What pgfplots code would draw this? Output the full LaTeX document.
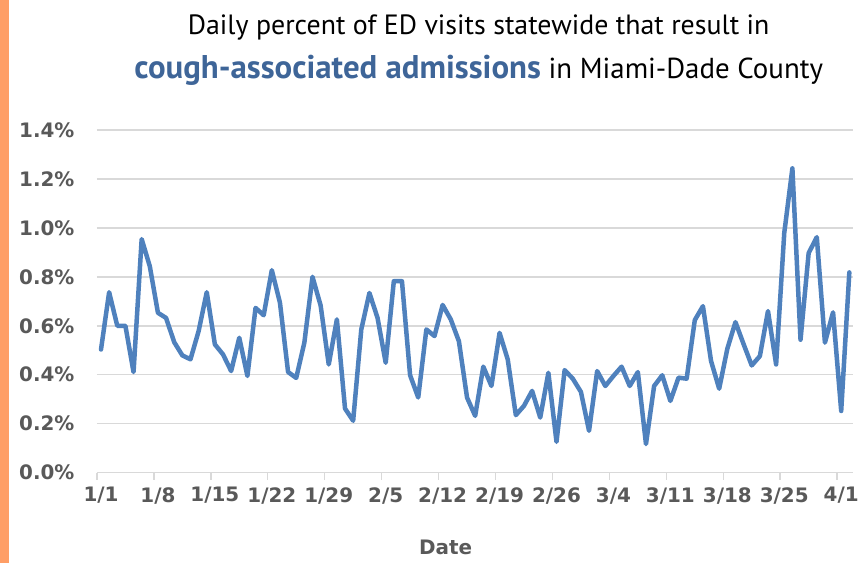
\documentclass[border=0pt]{standalone}
\usepackage{fontspec}
\setmainfont{PT Sans}
\newfontfamily\tickfont{DejaVu Sans}
\usepackage{pgfplots}
\usepackage{pgfplotstable}
\pgfplotsset{compat=1.18}
\definecolor{lineblue}{RGB}{79,129,189}
\definecolor{titleblue}{RGB}{62,101,152}
\definecolor{gridgrey}{RGB}{217,217,217}
\definecolor{labgrey}{RGB}{89,89,89}
\definecolor{strip}{RGB}{255,158,102}
\pgfplotstableread{
x y
0.5 0.503
1.5 0.737
2.5 0.600
3.5 0.600
4.5 0.411
5.5 0.954
6.5 0.843
7.5 0.653
8.5 0.632
9.5 0.533
10.5 0.479
11.5 0.463
12.5 0.578
13.5 0.737
14.5 0.524
15.5 0.483
16.5 0.415
17.5 0.551
18.5 0.395
19.5 0.673
20.5 0.643
21.5 0.827
22.5 0.694
23.5 0.411
24.5 0.387
25.5 0.531
26.5 0.800
27.5 0.683
28.5 0.442
29.5 0.626
30.5 0.262
31.5 0.212
32.5 0.585
33.5 0.734
34.5 0.632
35.5 0.449
36.5 0.782
37.5 0.782
38.5 0.398
39.5 0.307
40.5 0.585
41.5 0.558
42.5 0.685
43.5 0.626
44.5 0.537
45.5 0.307
46.5 0.232
47.5 0.433
48.5 0.354
49.5 0.571
50.5 0.463
51.5 0.235
52.5 0.273
53.5 0.334
54.5 0.225
55.5 0.408
56.5 0.126
57.5 0.419
58.5 0.384
59.5 0.330
60.5 0.171
61.5 0.415
62.5 0.354
63.5 0.395
64.5 0.433
65.5 0.354
66.5 0.411
67.5 0.117
68.5 0.354
69.5 0.398
70.5 0.293
71.5 0.388
72.5 0.384
73.5 0.623
74.5 0.680
75.5 0.456
76.5 0.343
77.5 0.506
78.5 0.615
79.5 0.525
80.5 0.438
81.5 0.476
82.5 0.660
83.5 0.442
84.5 0.979
85.5 1.243
86.5 0.543
87.5 0.897
88.5 0.962
89.5 0.531
90.5 0.655
91.5 0.252
92.5 0.818
}\datatable
\begin{document}
\begin{tikzpicture}
\fill[white] (0bp,0bp) rectangle (862bp,563bp);
\fill[strip] (0bp,0bp) rectangle (9bp,563bp);
\begin{axis}[
  at={(97bp,90bp)}, anchor=south west,
  scale only axis, width=757bp, height=343bp,
  xmin=0, xmax=93, ymin=0, ymax=1.4,
  axis line style={draw=none},
  ytick={0,0.2,0.4,0.6,0.8,1.0,1.2,1.4},
  yticklabel={\pgfmathprintnumber[fixed,fixed zerofill,precision=1]{\tick}\%},
  ymajorgrids, grid style={gridgrey, line width=1.5bp},
  ytick style={draw=none},
  xtick={0.5,7.5,14.5,21.5,28.5,35.5,42.5,49.5,56.5,63.5,70.5,77.5,84.5,91.5},
  xticklabels={1/1,1/8,1/15,1/22,1/29,2/5,2/12,2/19,2/26,3/4,3/11,3/18,3/25,4/1},
  major x tick style={draw=none},
  minor xtick={0,7,14,21,28,35,42,49,56,63,70,77,84,91},
  minor tick length=7bp,
  minor x tick style={gridgrey, line width=1.5bp},
  xtick align=outside, tick pos=left,
  /pgf/number format/assume math mode=true,
  tick label style={font=\tickfont\bfseries\fontsize{20}{24}\selectfont, text=labgrey},
  xticklabel style={yshift=-7bp},
  yticklabel style={xshift=-19bp},
  xlabel={Date},
  xlabel style={font=\tickfont\bfseries\fontsize{20}{24}\selectfont, text=labgrey, at={(axis description cs:0.461,0)}, anchor=center, yshift=-75bp},
  clip=false,
]
\addplot[lineblue, line width=4.5bp, line join=round, line cap=round] table[x=x,y=y] {\datatable};
\end{axis}
\node[font=\fontsize{28}{32}\selectfont, anchor=center] at (479bp,535bp) {Daily percent of ED visits statewide that result in};
\node[font=\fontsize{29}{33}\selectfont, anchor=center] at (479bp,493bp) {\textcolor{titleblue}{\fontsize{33}{36}\selectfont\bfseries cough-associated admissions} in Miami-Dade County};
\end{tikzpicture}
\end{document}
